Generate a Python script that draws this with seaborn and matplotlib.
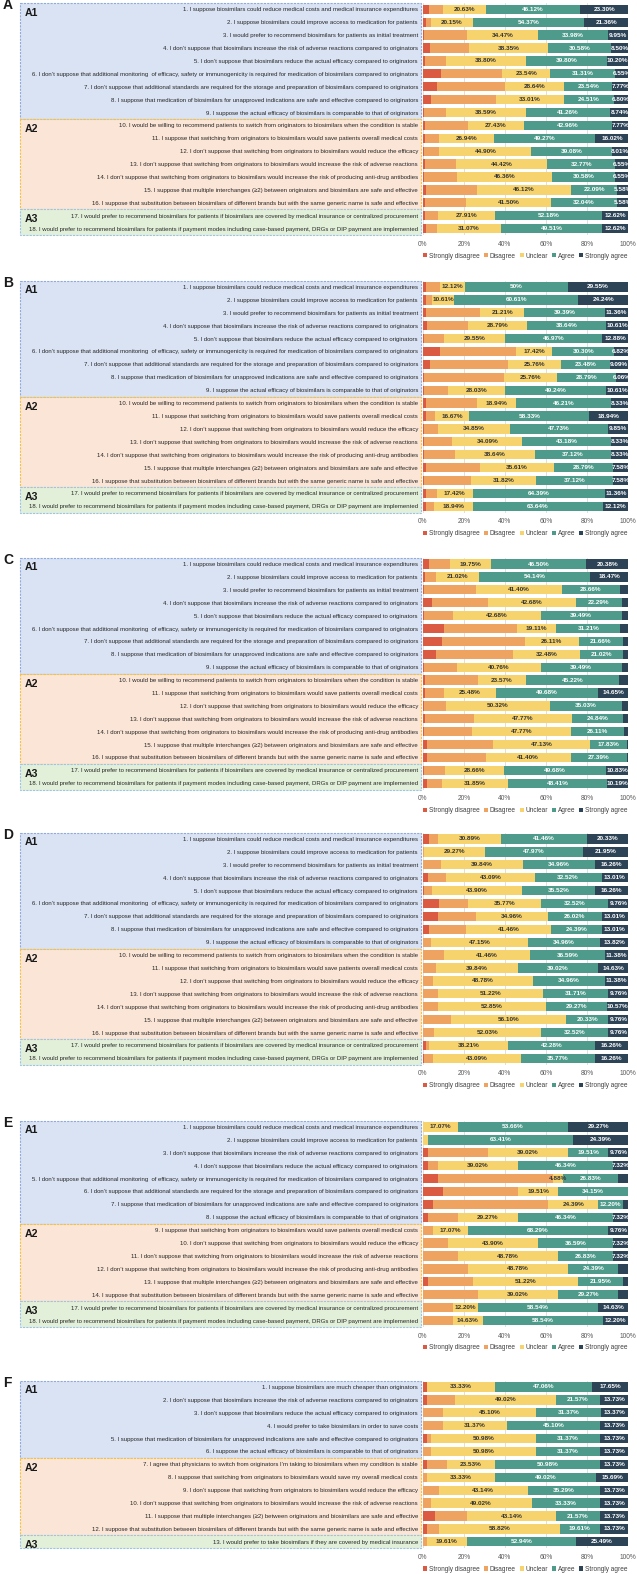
import numpy as np
import pandas as pd
import matplotlib
matplotlib.use("Agg")
import matplotlib.pyplot as plt
import seaborn as sns
from matplotlib import font_manager
from matplotlib.patches import Rectangle, Patch
from matplotlib.transforms import blended_transform_factory

levels = ["Strongly disagree", "Disagree", "Unclear", "Agree", "Strongly agree"]
level_colors = ["#DB5A42", "#EFA361", "#F6D36C", "#4E9B8B", "#2D4457"]

# statements shared by panels A-D
stmt_ad = [
    "1. I suppose biosimilars could reduce medical costs and medical insurance expenditures",
    "2. I suppose biosimilars could improve access to medication for patients",
    "3. I would prefer to recommend biosimilars for patients as initial treatment",
    "4. I don’t suppose that biosimilars increase the risk of adverse reactions compared to originators",
    "5. I don’t suppose that biosimilars reduce the actual efficacy compared to originators",
    "6. I don’t suppose that additional monitoring  of efficacy, safety or immunogenicity is required for medication of biosimilars compared to originators",
    "7. I don’t suppose that additional standards are required for the storage and preparation of biosimilars compared to originators",
    "8. I suppose that medication of biosimilars for unapproved indications are safe and effective compared to originators",
    "9. I suppose the actual efficacy of biosimilars is comparable to that of originators",
    "10. I would be willing to recommend patients to switch from originators to biosimilars when the condition is stable",
    "11. I suppose that switching from originators to biosimilars would save patients overall medical costs",
    "12. I don’t suppose that switching from originators to biosimilars would reduce the efficacy",
    "13. I don’t suppose that switching from originators to biosimilars would increase the risk of adverse reactions",
    "14. I don’t suppose that switching from originators to biosimilars would increase the risk of producing anti-drug antibodies",
    "15. I suppose that multiple interchanges (≥2) between originators and biosimilars are safe and effective",
    "16. I suppose that substitution between biosimilars of different brands but with the same generic name is safe and effective",
    "17. I would prefer to recommend biosimilars for patients if biosimilars are covered by medical insurance or centralized procurement",
    "18. I would prefer to recommend biosimilars for patients if payment modes including case-based payment, DRGs or DIP payment are implemented",
]

stmt_e = [
    "1. I suppose biosimilars could reduce medical costs and medical insurance expenditures",
    "2. I suppose biosimilars could improve access to medication for patients",
    "3. I don’t suppose that biosimilars increase the risk of adverse reactions compared to originators",
    "4. I don’t suppose that biosimilars reduce the actual efficacy compared to originators",
    "5. I don’t suppose that additional monitoring  of efficacy, safety or immunogenicity is required for medication of biosimilars compared to originators",
    "6. I don’t suppose that additional standards are required for the storage and preparation of biosimilars compared to originators",
    "7. I suppose that medication of biosimilars for unapproved indications are safe and effective compared to originators",
    "8. I suppose the actual efficacy of biosimilars is comparable to that of originators",
    "9. I suppose that switching from originators to biosimilars would save patients overall medical costs",
    "10. I don’t suppose that switching from originators to biosimilars would reduce the efficacy",
    "11. I don’t suppose that switching from originators to biosimilars would increase the risk of adverse reactions",
    "12. I don’t suppose that switching from originators to biosimilars would increase the risk of producing anti-drug antibodies",
    "13. I suppose that multiple interchanges (≥2) between originators and biosimilars are safe and effective",
    "14. I suppose that substitution between biosimilars of different brands but with the same generic name is safe and effective",
    "17. I would prefer to recommend biosimilars for patients if biosimilars are covered by medical insurance or centralized procurement",
    "18. I would prefer to recommend biosimilars for patients if payment modes including case-based payment, DRGs or DIP payment are implemented",
]

stmt_f = [
    "1. I suppose biosimilars are much cheaper than originators",
    "2. I don’t suppose that biosimilars increase the risk of adverse reactions compared to originators",
    "3. I don’t suppose that biosimilars reduce the actual efficacy compared to originators",
    "4. I would prefer to take biosimilars in order to save costs",
    "5. I suppose that medication of biosimilars for unapproved indications are safe and effective compared to originators",
    "6. I suppose the actual efficacy of biosimilars is comparable to that of originators",
    "7. I agree that physicians to switch from originators I’m taking to biosimilars when my condition is stable",
    "8. I suppose that switching from originators to biosimilars would save my overall medical costs",
    "9. I don’t suppose that switching from originators to biosimilars would reduce the efficacy",
    "10. I don’t suppose that switching from originators to biosimilars would increase the risk of adverse reactions",
    "11. I suppose that multiple interchanges (≥2) between originators and biosimilars are safe and effective",
    "12. I suppose that substitution between biosimilars of different brands but with the same generic name is safe and effective",
    "13. I would prefer to take biosimilars if they are covered by medical insurance",
]

# panel A
a_sd = [2.91, 1.46, 0.49, 3.40, 0.97, 8.74, 6.80, 3.88, 0.49, 0.97, 0.97, 0.49, 0.97, 0.49, 1.46, 1.21, 0.97, 1.46]
a_d = [7.04, 2.66, 21.11, 19.17, 10.23, 29.86, 33.25, 31.80, 10.92, 20.87, 6.80, 7.52, 15.29, 16.02, 24.75, 19.67, 6.32, 5.34]
a_u = [20.63, 20.15, 34.47, 38.35, 38.80, 23.54, 28.64, 33.01, 38.59, 27.43, 26.94, 44.90, 44.42, 46.36, 46.12, 41.50, 27.91, 31.07]
a_a = [46.12, 54.37, 33.98, 30.58, 39.80, 31.31, 23.54, 24.51, 41.26, 42.96, 49.27, 39.08, 32.77, 30.58, 22.09, 32.04, 52.18, 49.51]
a_sa = [23.30, 21.36, 9.95, 8.50, 10.20, 6.55, 7.77, 6.80, 8.74, 7.77, 16.02, 8.01, 6.55, 6.55, 5.58, 5.58, 12.62, 12.62]

# panel B
b_sd = [1.52, 1.52, 1.52, 2.27, 0.76, 8.33, 3.79, 0.76, 0.76, 1.52, 1.52, 0.76, 0.76, 0.76, 1.52, 0.76, 1.52, 1.52]
b_d = [6.81, 3.02, 26.52, 19.69, 9.84, 37.13, 37.88, 38.63, 11.36, 25.00, 4.54, 6.81, 13.64, 15.15, 26.50, 22.72, 5.31, 3.78]
b_u = [12.12, 10.61, 21.21, 28.79, 29.55, 17.42, 25.76, 25.76, 28.03, 18.94, 16.67, 34.85, 34.09, 38.64, 35.61, 31.82, 17.42, 18.94]
b_a = [50.00, 60.61, 39.39, 38.64, 46.97, 30.30, 23.48, 28.79, 49.24, 46.21, 58.33, 47.73, 43.18, 37.12, 28.79, 37.12, 64.39, 63.64]
b_sa = [29.55, 24.24, 11.36, 10.61, 12.88, 6.82, 9.09, 6.06, 10.61, 8.33, 18.94, 9.85, 8.33, 8.33, 7.58, 7.58, 11.36, 12.12]

# panel C
c_sd = [3.18, 1.27, 0.64, 4.46, 0.64, 10.19, 9.55, 6.37, 0.64, 1.27, 1.27, 0.64, 1.27, 0.64, 1.91, 1.91, 0.64, 1.91]
c_d = [10.19, 5.10, 25.48, 27.39, 14.01, 35.67, 40.13, 37.58, 15.93, 25.48, 8.92, 10.83, 23.57, 23.57, 32.49, 28.66, 10.19, 7.64]
c_u = [19.75, 21.02, 41.40, 42.68, 42.68, 19.11, 26.11, 32.48, 40.76, 23.57, 25.48, 50.32, 47.77, 47.77, 47.13, 41.40, 28.66, 31.85]
c_a = [46.50, 54.14, 28.66, 22.29, 39.49, 31.21, 21.66, 21.02, 39.49, 45.22, 49.68, 35.03, 24.84, 26.11, 17.83, 27.39, 49.68, 48.41]
c_sa = [20.38, 18.47, 3.82, 3.18, 3.18, 3.82, 2.55, 2.55, 3.18, 4.46, 14.65, 3.18, 2.55, 1.91, 0.64, 0.64, 10.83, 10.19]

# panel D
d_sd = [3.25, 0.00, 0.00, 2.44, 0.81, 8.13, 7.32, 3.25, 0.00, 0.00, 0.00, 0.00, 0.00, 0.00, 0.00, 0.00, 1.63, 0.81]
d_d = [4.07, 0.81, 8.94, 8.94, 3.51, 13.82, 18.69, 17.89, 4.07, 10.57, 6.51, 4.88, 7.31, 7.31, 13.81, 5.69, 1.62, 4.07]
d_u = [30.89, 29.27, 39.84, 43.09, 43.90, 35.77, 34.96, 41.46, 47.15, 41.46, 39.84, 48.78, 51.22, 52.85, 56.10, 52.03, 38.21, 43.09]
d_a = [41.46, 47.97, 34.96, 32.52, 35.52, 32.52, 26.02, 24.39, 34.96, 36.59, 39.02, 34.96, 31.71, 29.27, 20.33, 32.52, 42.28, 35.77]
d_sa = [20.33, 21.95, 16.26, 13.01, 16.26, 9.76, 13.01, 13.01, 13.82, 11.38, 14.63, 11.38, 9.76, 10.57, 9.76, 9.76, 16.26, 16.26]

# panel E
e_sd = [0.00, 0.00, 2.44, 2.44, 7.32, 9.76, 4.88, 2.44, 0.00, 0.00, 0.00, 0.00, 2.44, 0.00, 0.00, 0.00]
e_d = [0.00, 0.00, 29.27, 4.88, 56.10, 36.59, 56.10, 14.63, 4.88, 12.20, 17.07, 21.95, 21.95, 26.83, 14.63, 14.63]
e_u = [17.07, 2.44, 39.02, 39.02, 4.88, 19.51, 24.39, 29.27, 17.07, 43.90, 48.78, 48.78, 51.22, 39.02, 12.20, 14.63]
e_a = [53.66, 63.41, 19.51, 46.34, 26.83, 34.15, 12.20, 46.34, 68.29, 36.59, 26.83, 24.39, 21.95, 29.27, 58.54, 58.54]
e_sa = [29.27, 24.39, 9.76, 7.32, 4.88, 0.00, 2.44, 7.32, 9.76, 7.32, 7.32, 4.88, 2.44, 4.88, 14.63, 12.20]

# panel F
f_sd = [1.96, 1.96, 0.00, 0.00, 1.96, 0.00, 1.96, 0.00, 0.00, 0.00, 5.88, 1.96, 0.00]
f_d = [0.00, 13.73, 9.80, 9.80, 1.96, 3.92, 9.80, 1.96, 7.84, 3.92, 15.68, 5.88, 1.96]
f_u = [33.33, 49.02, 45.10, 31.37, 50.98, 50.98, 23.53, 33.33, 43.14, 49.02, 43.14, 58.82, 19.61]
f_a = [47.06, 21.57, 31.37, 45.10, 31.37, 31.37, 50.98, 49.02, 35.29, 33.33, 21.57, 19.61, 52.94]
f_sa = [17.65, 13.73, 13.37, 13.73, 13.73, 13.73, 13.73, 15.69, 13.73, 13.73, 13.73, 13.73, 25.49]

groups_ad = [("A1", 9), ("A2", 7), ("A3", 2)]
groups_e = [("A1", 8), ("A2", 6), ("A3", 2)]
groups_f = [("A1", 6), ("A2", 6), ("A3", 1)]

group_fill = {"A1": "#DAE3F3", "A2": "#FBE5D6", "A3": "#E2F0D9"}
group_edge = {"A1": "#8FAADC", "A2": "#F5C142", "A3": "#9DC3E6"}

panels = [
    ("A", stmt_ad, [a_sd, a_d, a_u, a_a, a_sa], groups_ad, 9.3),
    ("B", stmt_ad, [b_sd, b_d, b_u, b_a, b_sa], groups_ad, 287),
    ("C", stmt_ad, [c_sd, c_d, c_u, c_a, c_sa], groups_ad, 564),
    ("D", stmt_ad, [d_sd, d_d, d_u, d_a, d_sa], groups_ad, 839),
    ("E", stmt_e, [e_sd, e_d, e_u, e_a, e_sa], groups_e, 1127),
    ("F", stmt_f, [f_sd, f_d, f_u, f_a, f_sa], groups_f, 1387),
]


def fmt(v):
    if abs(v - round(v)) < 1e-9:
        return f"{int(round(v))}%"
    return f"{v:.2f}%"


def installed(name):
    try:
        font_manager.findfont(name, fallback_to_default=False)
        return True
    except ValueError:
        return False


sns.set_theme(style="whitegrid")
narrow = [f for f in ["Liberation Sans Narrow", "DejaVu Sans Condensed", "Liberation Sans"] if installed(f)]
plt.rcParams["font.family"] = narrow[:1] + ["DejaVu Sans"]

W, H = 637, 1574
ROW = 12.9
X0, X1 = 422.7, 628.3
BOX_L, BOX_R = 19.5, 421.0

fig = plt.figure(figsize=(W / 100, H / 100), dpi=100)
fig.patch.set_facecolor("white")

# size the statement text so the longest one spans the label area like the original
renderer = fig.canvas.get_renderer()
probe = fig.text(0, 0, max(stmt_ad, key=len), fontsize=10)
label_size = 10 * 392 / probe.get_window_extent(renderer).width
probe.remove()

for letter, items, vals, groups, top in panels:
    n = len(items)
    y_top = top - ROW / 2
    y_bot = top + (n - 0.5) * ROW
    ax = fig.add_axes([X0 / W, 1 - y_bot / H, (X1 - X0) / W, (y_bot - y_top) / H])
    ax.set_facecolor("white")

    arr = np.array(vals, dtype=float).T
    share = arr / arr.sum(axis=1, keepdims=True) * 100
    cum = share.cumsum(axis=1)
    df = pd.DataFrame(cum, columns=levels)
    df["item"] = items

    # stacked bars: draw the cumulative totals from the right end back to the left
    for k in range(4, -1, -1):
        sns.barplot(data=df, x=levels[k], y="item", orient="h", color=level_colors[k],
                    saturation=1, width=0.72, errorbar=None, linewidth=0, ax=ax, zorder=2)

    for i in range(n):
        for k in (2, 3, 4):
            v = arr[i, k]
            if v < (4 if k < 4 else 5):
                continue
            xc = cum[i, k] - share[i, k] / 2
            ax.text(xc, i, fmt(v), ha="center", va="center", fontsize=4.6,
                    fontweight="bold", color="#333333" if k == 2 else "white", zorder=3)

    ax.set_xlim(0, 100)
    ax.set_ylim(n - 0.5, -0.5)
    ax.set_xlabel("")
    ax.set_ylabel("")
    ax.set_xticks(range(0, 101, 20))
    ax.set_xticklabels([f"{t}%" for t in range(0, 101, 20)])
    ax.set_yticks(range(n))
    ax.set_yticklabels(items)
    ax.tick_params(axis="y", length=0, pad=3.4, labelsize=label_size, labelcolor="#262626")
    ax.tick_params(axis="x", length=0, pad=4, labelsize=4.8, labelcolor="#595959")
    ax.grid(axis="x", color="#D9D9D9", linewidth=0.6)
    ax.grid(axis="y", visible=False)
    ax.set_axisbelow(True)
    sns.despine(ax=ax, left=True, bottom=True)

    # group boxes behind the statement labels
    tr = blended_transform_factory(fig.transFigure, ax.transData)
    start = 0
    for name, cnt in groups:
        ax.add_patch(Rectangle((BOX_L / W, start - 0.5), (BOX_R - BOX_L) / W, cnt, transform=tr,
                               facecolor=group_fill[name], edgecolor=group_edge[name],
                               linestyle=(0, (2, 1)), linewidth=0.8, clip_on=False, zorder=0))
        ax.text(25 / W, start + 0.27, name, transform=tr, fontsize=7.6, fontweight="bold",
                ha="left", va="center", color="#1A1A1A", zorder=1)
        start += cnt

    fig.text(3 / W, 1 - (top - 4) / H, letter, fontsize=10, fontweight="bold",
             ha="left", va="center", color="#1A1A1A")

    handles = [Patch(facecolor=c, edgecolor="none") for c in level_colors]
    ax.legend(handles, levels, loc="center", ncol=5, frameon=False,
              bbox_to_anchor=((X0 + X1) / 2 / W, 1 - (y_bot + 21) / H), bbox_transform=fig.transFigure,
              fontsize=4.7, handlelength=0.6, handleheight=0.6, handletextpad=0.3,
              columnspacing=0.6, labelcolor="#404040")

fig.savefig("out.png", dpi=100)
